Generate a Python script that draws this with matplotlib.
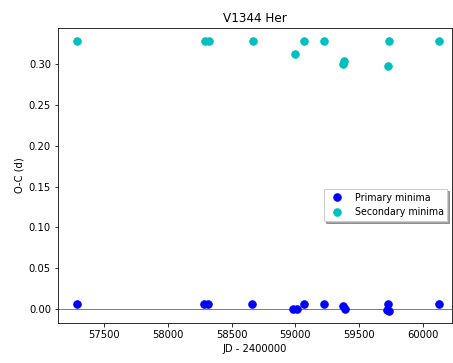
import matplotlib
matplotlib.use("Agg")
import matplotlib.pyplot as plt

# Primary minima (JD - 2400000, O-C in days)
prim_jd = [57286, 58283, 58317, 58663, 58980, 59012, 59064, 59221, 59373, 59391, 59719, 59727, 59735, 60124]
prim_oc = [0.006, 0.006, 0.006, 0.006, 0.000, 0.000, 0.006, 0.006, 0.004, 0.000, -0.001, 0.006, -0.002, 0.006]

# Secondary minima
sec_jd = [57286, 58290, 58322, 58665, 58996, 59064, 59226, 59370, 59383, 59724, 59731, 60124]
sec_oc = [0.3285, 0.3285, 0.3285, 0.3285, 0.312, 0.3285, 0.3285, 0.300, 0.303, 0.297, 0.3285, 0.3285]

# rendered at 72 dpi so default font sizes come out like the reference
fig = plt.figure(figsize=(453 / 72, 363 / 72), dpi=72)
ax = fig.add_axes([0.128, 0.110, 0.870, 0.813])

ax.axhline(0, color='gray', linewidth=1)
ax.plot(prim_jd, prim_oc, 'o', color='b', markersize=7.5, label='Primary minima')
ax.plot(sec_jd, sec_oc, 'o', color='c', markersize=7.5, label='Secondary minima')

ax.set_xlim(57139, 60228)
ax.set_ylim(-0.017, 0.344)
ax.set_title('V1344 Her', fontsize=12)
ax.set_xlabel('JD - 2400000')
ax.set_ylabel('O-C (d)')
ax.legend(loc='center right', bbox_to_anchor=(1.0, 0.4), shadow=True,
          fancybox=False, fontsize=9.5)

plt.savefig('out.png', dpi=72)
